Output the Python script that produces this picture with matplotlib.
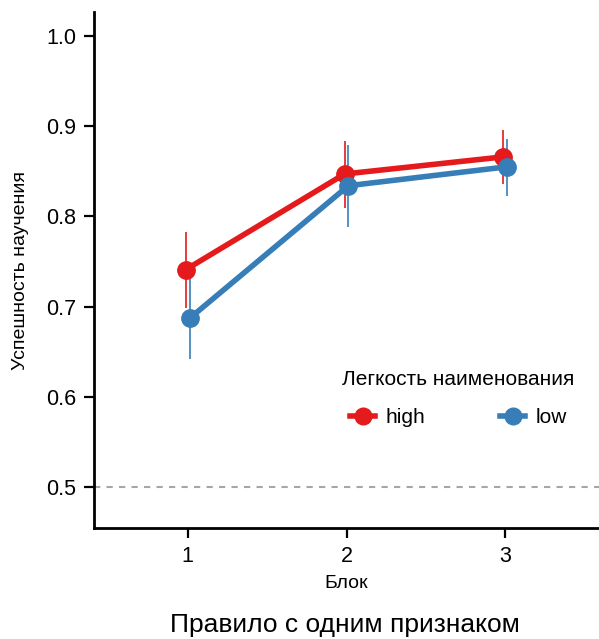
import matplotlib
matplotlib.use("Agg")
import matplotlib.pyplot as plt
from matplotlib.lines import Line2D

plt.rcParams['font.family'] = ['Liberation Sans', 'DejaVu Sans']

blocks = [1, 2, 3]
high_mean = [0.741, 0.847, 0.866]
high_lo = [0.698, 0.809, 0.836]
high_hi = [0.783, 0.884, 0.896]
low_mean = [0.687, 0.834, 0.855]
low_lo = [0.642, 0.788, 0.823]
low_hi = [0.733, 0.879, 0.886]
groups = ["high", "low"]
colors = ["#E41A1C", "#377EB8"]
dodge = [-0.012, 0.012]

fig = plt.figure(figsize=(5.99, 6.39), dpi=100)
ax = fig.add_axes([94/599, 1-528/639, 1-94/599, (528-12)/639])

ax.axhline(0.5, color="#A6A6A6", linestyle=(0, (3, 3)), linewidth=1.5, zorder=1)

data = [(high_mean, high_lo, high_hi), (low_mean, low_lo, low_hi)]
for (m, lo, hi), c, d in zip(data, colors, dodge):
    xs = [b + d for b in blocks]
    ax.vlines(xs, lo, hi, color=c, linewidth=1.2, zorder=2)
    ax.plot(xs, m, color=c, linewidth=4.0, marker="o", markersize=12.5, zorder=3)

ax.set_xlim(0.41, 3.59)
ax.set_ylim(0.4545, 1.0266)
ax.set_xticks(blocks)
ax.set_xticklabels([str(b) for b in blocks])
ax.set_yticks([0.5, 0.6, 0.7, 0.8, 0.9, 1.0])
ax.set_yticklabels(["0.5", "0.6", "0.7", "0.8", "0.9", "1.0"])
ax.tick_params(axis="both", labelsize=15.5, width=1.6, length=7, color="black", pad=6)
ax.spines["top"].set_visible(False)
ax.spines["right"].set_visible(False)
ax.spines["left"].set_linewidth(2)
ax.spines["bottom"].set_linewidth(2)
ax.set_xlabel("Блок", fontsize=14, labelpad=6)
ax.set_ylabel("Успешность научения", fontsize=14, labelpad=12)

handles = [Line2D([0], [0], color=c, linewidth=4.0, marker="o", markersize=12) for c in colors]
leg = ax.legend(handles, groups, title="Легкость наименования", ncol=2, frameon=False,
                fontsize=15, title_fontsize=15, loc="center", bbox_to_anchor=(0.722, 0.251),
                handlelength=1.2, columnspacing=3.6, handletextpad=0.5)
leg._legend_box.sep = 14

fig.text(345/599, 1-632/639, "Правило с одним признаком", ha="center", va="baseline", fontsize=19)

fig.savefig("out.png", dpi=100)
